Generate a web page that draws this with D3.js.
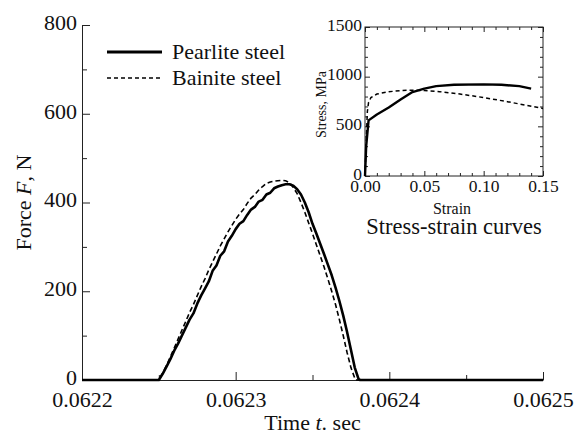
<!DOCTYPE html>
<html lang="en">
<head>
  <meta charset="UTF-8" />
  <title>Force vs time</title>
  <script src="https://d3js.org/d3.v7.min.js"></script>
  <style>
    body { margin: 0; background: #fff; }
    svg text { font-family: "Liberation Serif", Tinos, "Times New Roman", "DejaVu Serif", serif; fill: #111; }
    .axis path, .axis line { stroke: #222; stroke-width: 1px; }
    .curve { fill: none; stroke: #000; }
  </style>
</head>
<body>
  <svg id="chart"></svg>
  <script>
    const SERIF = "'Liberation Serif', Tinos, 'Times New Roman', 'DejaVu Serif', serif";

    // main plot: time (s) vs force (N)
    const pearliteT = [0.0622, 0.06225, 0.0622525, 0.062255, 0.0622575, 0.06226, 0.0622625, 0.062265, 0.0622675, 0.06227,
      0.0622725, 0.062275, 0.0622775, 0.06228, 0.0622825, 0.062285, 0.0622875, 0.06229, 0.0622925, 0.062295,
      0.0622975, 0.0623, 0.0623025, 0.062305, 0.0623075, 0.06231, 0.0623125, 0.062315, 0.0623175, 0.06232,
      0.0623225, 0.062325, 0.0623275, 0.06233, 0.0623325, 0.062335, 0.0623375, 0.06234, 0.0623425, 0.062345,
      0.0623475, 0.06235, 0.0623525, 0.062355, 0.0623575, 0.06236, 0.0623625, 0.062365, 0.0623675, 0.06237,
      0.0623725, 0.062375, 0.0623775, 0.06238, 0.062381, 0.0625];
    const pearliteF = [0, 0, 14, 30, 47, 66, 82, 100, 118, 136,
      150, 172, 190, 206, 222, 246, 258, 280, 290, 312,
      325, 340, 352, 358, 372, 384, 390, 402, 406, 418,
      422, 432, 436, 439, 441, 441, 438, 430, 418, 400,
      378, 352, 330, 307, 284, 260, 236, 208, 178, 145,
      108, 68, 28, 2, 0, 0];

    const bainiteT = [0.0622, 0.06225, 0.0622525, 0.062255, 0.0622575, 0.06226, 0.0622625, 0.062265, 0.0622675, 0.06227,
      0.0622725, 0.062275, 0.0622775, 0.06228, 0.0622825, 0.062285, 0.0622875, 0.06229, 0.0622925, 0.062295,
      0.0622975, 0.0623, 0.0623025, 0.062305, 0.0623075, 0.06231, 0.0623125, 0.062315, 0.0623175, 0.06232,
      0.0623225, 0.062325, 0.0623275, 0.06233, 0.0623325, 0.062335, 0.0623375, 0.06234, 0.0623425, 0.062345,
      0.0623475, 0.06235, 0.0623525, 0.062355, 0.0623575, 0.06236, 0.0623625, 0.062365, 0.0623675, 0.06237,
      0.0623725, 0.062375, 0.0623775, 0.062378, 0.0625];
    const bainiteF = [0, 0, 15, 33, 52, 72, 92, 112, 132, 152,
      170, 190, 210, 228, 248, 266, 284, 302, 318, 334,
      348, 362, 374, 384, 398, 410, 418, 428, 436, 443,
      446, 448, 449, 450, 449, 445, 434, 420, 400, 378,
      354, 330, 305, 280, 255, 228, 200, 170, 136, 100,
      62, 28, 4, 0, 0];

    const timeTicks = [0.0622, 0.0623, 0.0624, 0.0625];
    const timeMinor = [0.06225, 0.06235, 0.06245];
    const forceTicks = [0, 200, 400, 600, 800];
    const forceMinor = [100, 300, 500, 700];
    const seriesNames = ["Pearlite steel", "Bainite steel"];

    // inset: strain vs stress (MPa)
    const pearliteStrain = [0, 0.001, 0.003, 0.01, 0.02, 0.03, 0.04, 0.05, 0.06, 0.075, 0.1, 0.115, 0.13, 0.14];
    const pearliteStress = [0, 300, 560, 620, 690, 770, 845, 880, 905, 918, 922, 918, 905, 880];
    const bainiteStrain = [0, 0.0015, 0.002, 0.003, 0.005, 0.01, 0.02, 0.03, 0.04, 0.05, 0.063, 0.08, 0.1, 0.12, 0.15];
    const bainiteStress = [0, 500, 650, 740, 790, 825, 848, 860, 864, 860, 849, 825, 790, 748, 680];

    const strainTicks = [0, 0.05, 0.1, 0.15];
    const stressTicks = [0, 500, 1000, 1500];

    const W = 575, H = 434;
    const margin = { top: 25, right: 32, bottom: 54, left: 82 };
    const width = W - margin.left - margin.right;
    const height = H - margin.top - margin.bottom;

    const svg = d3.select("#chart").attr("width", W).attr("height", H)
      .attr("font-family", SERIF);
    const g = svg.append("g").attr("transform", `translate(${margin.left},${margin.top})`);

    const x = d3.scaleLinear().domain([0.0622, 0.0625]).range([0, width]);
    const y = d3.scaleLinear().domain([0, 800]).range([height, 0]);

    // minor ticks first
    g.append("g").attr("class", "axis")
      .attr("transform", `translate(0,${height})`)
      .call(d3.axisBottom(x).tickValues(timeMinor).tickSize(-5).tickFormat(""))
      .select(".domain").remove();
    g.append("g").attr("class", "axis")
      .call(d3.axisLeft(y).tickValues(forceMinor).tickSize(-5).tickFormat(""))
      .select(".domain").remove();

    const xAxis = g.append("g").attr("class", "axis")
      .attr("transform", `translate(0,${height})`)
      .call(d3.axisBottom(x).tickValues(timeTicks).tickSizeInner(-8).tickSizeOuter(0)
        .tickPadding(11).tickFormat(d3.format(".4f")));
    xAxis.attr("font-family", SERIF).selectAll("text").attr("font-size", 22);

    const yAxis = g.append("g").attr("class", "axis")
      .call(d3.axisLeft(y).tickValues(forceTicks).tickSizeInner(-8).tickSizeOuter(0)
        .tickPadding(5).tickFormat(d3.format("d")));
    yAxis.attr("font-family", SERIF).selectAll("text").attr("font-size", 22).attr("dy", "0.2em");

    // axis titles
    const xl = g.append("text")
      .attr("x", width / 2).attr("y", height + 50)
      .attr("text-anchor", "middle").attr("font-size", 22);
    xl.append("tspan").text("Time ");
    xl.append("tspan").attr("font-style", "italic").text("t");
    xl.append("tspan").text(". sec");

    const yl = g.append("text")
      .attr("transform", `translate(${31 - margin.left},${height / 2}) rotate(-90)`)
      .attr("text-anchor", "middle").attr("font-size", 22);
    yl.append("tspan").text("Force ");
    yl.append("tspan").attr("font-style", "italic").text("F");
    yl.append("tspan").text(", N");

    const line = d3.line().x(d => x(d[0])).y(d => y(d[1]));
    const pearliteData = pearliteT.map((t, i) => [t, pearliteF[i]]);
    const bainiteData = bainiteT.map((t, i) => [t, bainiteF[i]]);

    g.append("path").datum(bainiteData).attr("class", "curve")
      .attr("stroke-width", 1.6).attr("stroke-dasharray", "5,3").attr("d", line);
    g.append("path").datum(pearliteData).attr("class", "curve")
      .attr("stroke-width", 2.6).attr("stroke-linejoin", "round").attr("d", line);

    // legend
    const legend = g.append("g").attr("transform", `translate(${107 - margin.left},${52 - margin.top})`);
    seriesNames.forEach((name, i) => {
      const row = legend.append("g").attr("transform", `translate(0,${i * 26})`);
      row.append("line").attr("x1", 0).attr("x2", 55).attr("y1", 0).attr("y2", 0)
        .attr("stroke", "#000")
        .attr("stroke-width", i === 0 ? 3 : 1.6)
        .attr("stroke-dasharray", i === 0 ? null : "4,3");
      row.append("text").attr("x", 65).attr("y", 7).attr("font-size", 22).text(name);
    });

    // inset
    const ins = { left: 365, top: 27, right: 543, bottom: 176 };
    const iw = ins.right - ins.left, ih = ins.bottom - ins.top;
    const gi = svg.append("g").attr("transform", `translate(${ins.left},${ins.top})`);
    const xi = d3.scaleLinear().domain([0, 0.15]).range([0, iw]);
    const yi = d3.scaleLinear().domain([0, 1500]).range([ih, 0]);

    const strainMinor = d3.range(0, 16).map(i => i / 100).filter(v => !strainTicks.some(t => Math.abs(t - v) < 1e-9));
    const stressMinor = d3.range(0, 16).map(i => i * 100).filter(v => v % 500 !== 0);

    const insetAxis = (axis, tr, vals, size, fmt) => {
      const a = gi.append("g").attr("class", "axis").attr("transform", tr)
        .call(axis.tickValues(vals).tickSizeInner(-size).tickSizeOuter(0).tickPadding(3)
          .tickFormat(fmt || ""));
      a.attr("font-family", SERIF).select(".domain").remove();
      return a;
    };
    insetAxis(d3.axisBottom(xi), `translate(0,${ih})`, strainMinor, 3);
    insetAxis(d3.axisTop(xi), "translate(0,0)", strainMinor, 3);
    insetAxis(d3.axisLeft(yi), "translate(0,0)", stressMinor, 3);
    insetAxis(d3.axisRight(yi), `translate(${iw},0)`, stressMinor, 3);
    insetAxis(d3.axisTop(xi), "translate(0,0)", strainTicks, 5);
    insetAxis(d3.axisRight(yi), `translate(${iw},0)`, stressTicks, 5);
    const ixa = insetAxis(d3.axisBottom(xi), `translate(0,${ih})`, strainTicks, 5, d3.format(".2f"));
    ixa.selectAll("text").attr("font-size", 17.5).attr("dy", "0.72em");
    const iya = insetAxis(d3.axisLeft(yi), "translate(0,0)", stressTicks, 5, d3.format("d"));
    iya.selectAll("text").attr("font-size", 17.5).attr("dy", "0.18em");

    gi.append("rect").attr("width", iw).attr("height", ih)
      .attr("fill", "none").attr("stroke", "#222").attr("stroke-width", 1);

    const iline = d3.line().x(d => xi(d[0])).y(d => yi(d[1]));
    gi.append("path").datum(bainiteStrain.map((s, i) => [s, bainiteStress[i]]))
      .attr("class", "curve").attr("stroke-width", 1.5).attr("stroke-dasharray", "4,3").attr("d", iline);
    gi.append("path").datum(pearliteStrain.map((s, i) => [s, pearliteStress[i]]))
      .attr("class", "curve").attr("stroke-width", 2.4).attr("stroke-linejoin", "round").attr("d", iline);

    gi.append("text").attr("x", iw / 2 - 2).attr("y", 214 - ins.top)
      .attr("text-anchor", "middle").attr("font-size", 16).text("Strain");
    gi.append("text")
      .attr("transform", `translate(${326 - ins.left},${ih / 2 + 3}) rotate(-90)`)
      .attr("text-anchor", "middle").attr("font-size", 14).text("Stress, MPa");
    gi.append("text").attr("x", iw / 2).attr("y", 234 - ins.top)
      .attr("text-anchor", "middle").attr("font-size", 22.5).text("Stress-strain curves");
  </script>
</body>
</html>
